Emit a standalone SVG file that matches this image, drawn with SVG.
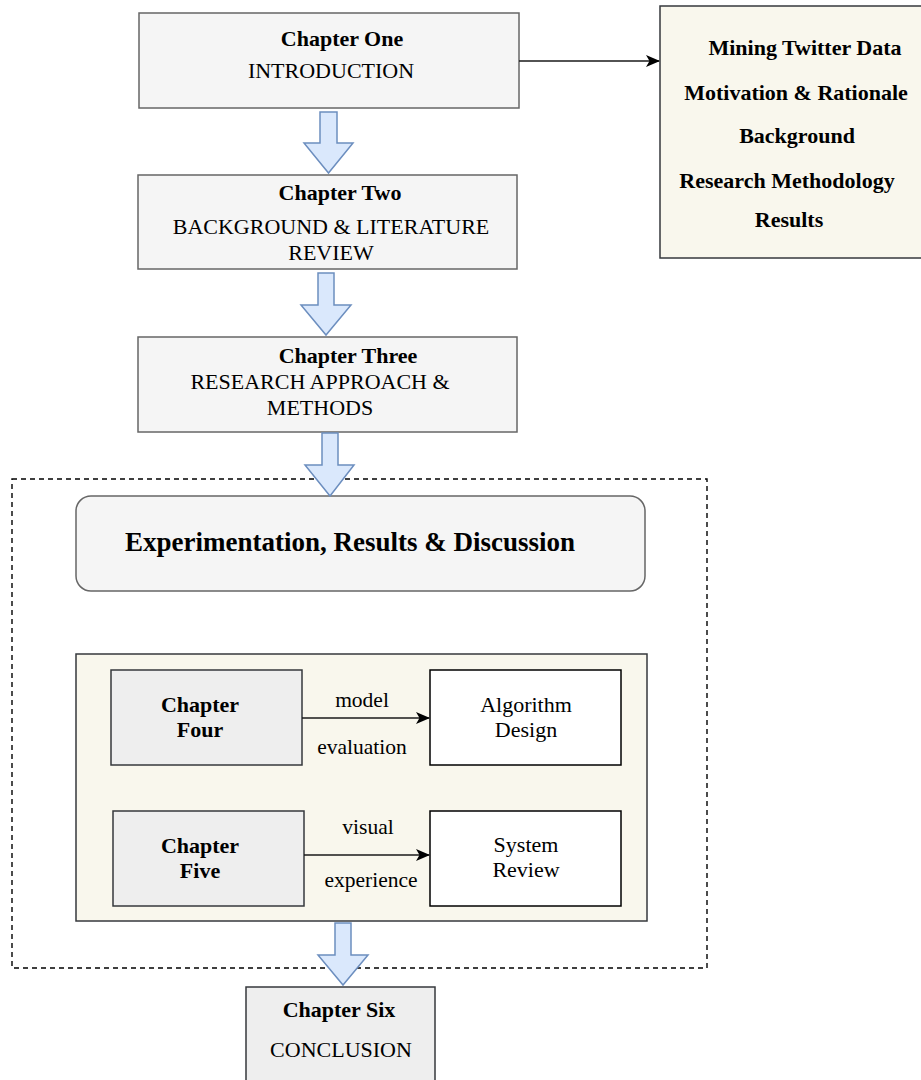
<svg xmlns="http://www.w3.org/2000/svg" width="921" height="1080" viewBox="0 0 921 1080">
  <defs>
    <style>
      text { font-family: "Liberation Serif", "Times New Roman", serif; fill: #000; text-anchor: middle; }
      .b { font-weight: bold; }
      .t21 { font-size: 22px; }
      .t20 { font-size: 21.5px; }
      .chap { fill: #f5f5f5; stroke: #666; stroke-width: 1.5; }
      .sub { fill: #eeeeee; stroke: #36393d; stroke-width: 1.5; }
      .note { fill: #f9f7ed; stroke: #36393d; stroke-width: 1.5; }
      .plain { fill: #ffffff; stroke: #000; stroke-width: 1.5; }
      .block { fill: #dae8fc; stroke: #6c8ebf; stroke-width: 1.5; stroke-linejoin: miter; }
      .link { fill: none; stroke: #1a1a1a; stroke-width: 1.6; }
    </style>
    <marker id="head" viewBox="0 0 14 14" refX="13" refY="7" markerWidth="14" markerHeight="14" markerUnits="userSpaceOnUse" orient="auto">
      <path d="M0,1 L14,7 L0,13 L3.5,7 Z" fill="#000"/>
    </marker>
  </defs>

  <!-- dashed grouping frame around the experimentation chapters -->
  <rect id="frame" x="12" y="479" width="695" height="489" fill="none" stroke="#000" stroke-width="1.4" stroke-dasharray="5 4"/>

  <g id="ch1">
    <rect class="chap" x="139" y="13" width="380" height="95"/>
    <text class="b t21" x="342" y="46">Chapter One</text>
    <text class="t21" x="331" y="78">INTRODUCTION</text>
  </g>

  <g id="outline">
    <rect class="note" x="660" y="6" width="266" height="252"/>
    <text class="b t21" x="805" y="55">Mining Twitter Data</text>
    <text class="b t21" x="796" y="100">Motivation &amp; Rationale</text>
    <text class="b t21" x="797" y="143">Background</text>
    <text class="b t21" x="787" y="188">Research Methodology</text>
    <text class="b t21" x="789" y="227">Results</text>
  </g>

  <g id="ch2">
    <rect class="chap" x="138" y="175" width="379" height="94"/>
    <text class="b t21" x="340" y="200">Chapter Two</text>
    <text class="t21" x="331" y="234">BACKGROUND &amp; LITERATURE</text>
    <text class="t21" x="331" y="260">REVIEW</text>
  </g>

  <g id="ch3">
    <rect class="chap" x="138" y="337" width="379" height="95"/>
    <text class="b t21" x="348" y="363">Chapter Three</text>
    <text class="t21" x="320" y="389">RESEARCH APPROACH &amp;</text>
    <text class="t21" x="320" y="415">METHODS</text>
  </g>

  <g id="experiment">
    <rect x="76" y="496" width="569" height="95" rx="15" ry="15" fill="#f5f5f5" stroke="#666" stroke-width="1.5"/>
    <text class="b" style="font-size:27px" x="350" y="551">Experimentation, Results &amp; Discussion</text>
  </g>

  <g id="chapters45">
    <rect class="note" x="76" y="654" width="571" height="267"/>
  </g>

  <g id="ch4">
    <rect class="sub" x="111" y="670" width="191" height="95"/>
    <text class="b t21" x="200" y="712">Chapter</text>
    <text class="b t21" x="200" y="737">Four</text>
  </g>

  <g id="algo">
    <rect class="plain" x="430" y="670" width="191" height="95"/>
    <text class="t21" x="526" y="712">Algorithm</text>
    <text class="t21" x="526" y="737">Design</text>
  </g>

  <g id="ch5">
    <rect class="sub" x="113" y="811" width="191" height="95"/>
    <text class="b t21" x="200" y="853">Chapter</text>
    <text class="b t21" x="200" y="878">Five</text>
  </g>

  <g id="review">
    <rect class="plain" x="430" y="811" width="191" height="95"/>
    <text class="t21" x="526" y="852">System</text>
    <text class="t21" x="526" y="877">Review</text>
  </g>

  <g id="ch6">
    <rect class="sub" x="246" y="987" width="189" height="110"/>
    <text class="b t21" x="339" y="1017">Chapter Six</text>
    <text class="t21" x="341" y="1057">CONCLUSION</text>
  </g>

  <g id="connectors">
    <path class="link" d="M519,61 H659" marker-end="url(#head)"/>
    <path class="link" d="M302,718 H429" marker-end="url(#head)"/>
    <path class="link" d="M304,855 H429" marker-end="url(#head)"/>
    <text class="t20" x="362" y="707">model</text>
    <text class="t20" x="362" y="754">evaluation</text>
    <text class="t20" x="368" y="834">visual</text>
    <text class="t20" x="371" y="887">experience</text>
    <!-- block arrows between chapters -->
    <path class="block" d="M320,112 H337 V143 H353 L328.5,173 L304,143 H320 Z"/>
    <path class="block" d="M318,273 H334 V305 H351 L326,335 L301,305 H318 Z"/>
    <path class="block" d="M322,433 H338 V465 H354 L330,496 L305,465 H322 Z"/>
    <path class="block" d="M335,923 H351 V955 H368 L343,985 L318,955 H335 Z"/>
  </g>
</svg>
